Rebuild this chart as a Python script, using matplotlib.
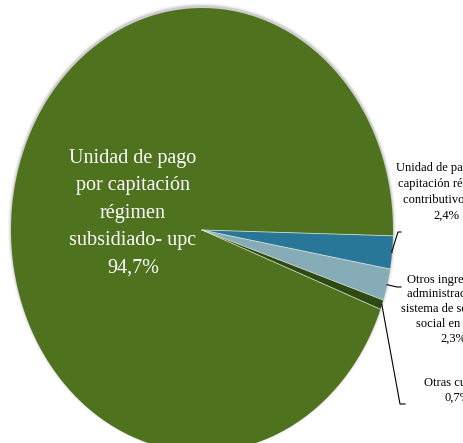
import numpy as np
import matplotlib.pyplot as plt
from matplotlib.patches import Ellipse

labels = [
    "Unidad de pago por\ncapitación régimen\ncontributivo- upc",
    "Otros ingresos por\nadministración del\nsistema de seguridad\nsocial en salud",
    "Otras cuentas",
    "Unidad de pago\npor capitación\nrégimen\nsubsidiado- upc",
]
values = [2.4, 2.3, 0.7, 94.7]
pct_text = ["2,4%", "2,3%", "0,7%", "94,7%"]
colors = ["#287698", "#86acb8", "#2d4a12", "#4e721e"]

W, H = 464, 443
cx, cy, rx, ry = 202, 230, 191, 222

fig = plt.figure(figsize=(W / 100, H / 100), dpi=100)
ax = fig.add_axes([0, 0, 1, 1])


def px(x, y):
    # pixel position -> data coords
    return (x - cx) / rx, (cy - y) / ry


# soft shadow around the pie
for i, a in enumerate([0.12, 0.09, 0.06, 0.04, 0.02]):
    grow = 0.007 * (i + 1)
    ax.add_patch(Ellipse((0, 0.008), 2 + grow, 2 + grow * rx / ry,
                         color="#555555", alpha=a, lw=0, zorder=0))

wedges, _ = ax.pie(values, colors=colors, startangle=-1.5, counterclock=False,
                   radius=1, center=(0, 0), wedgeprops=dict(linewidth=0))
for w in wedges:
    w.set_zorder(2)

# thin light separators between slices
for w in wedges:
    t = np.deg2rad(w.theta1)
    ax.plot([0, np.cos(t)], [0, np.sin(t)], color="#e8eee0", lw=0.6,
            alpha=0.8, zorder=3)

ax.set_xlim(-cx / rx, (W - cx) / rx)
ax.set_ylim(-(H - cy) / ry, cy / ry)
ax.set_aspect("auto")
ax.axis("off")

serif = ["Liberation Serif", "DejaVu Serif"]

# big label inside
tx, ty = px(133, 213)
ax.text(tx, ty, labels[3] + "\n" + pct_text[3], color="white", fontsize=14.5,
        family=serif, ha="center", va="center", linespacing=1.6, zorder=5)

# small outside labels
small_pos = [(446, 192), (453, 309), (458, 390)]
spacing = [1.45, 1.3, 1.3]
for i, (lx, ly) in enumerate(small_pos):
    x, y = px(lx, ly)
    ax.text(x, y, labels[i] + "\n" + pct_text[i], color="black", fontsize=9,
            family=serif, ha="center", va="center", linespacing=spacing[i],
            zorder=5)

# leader lines from slice edge
mids = [np.deg2rad((w.theta1 + w.theta2) / 2) for w in wedges[:3]]
ends = [[(392, 251), (398, 232), (401, 232)],
        [(397, 287), (401, 287)],
        [(400, 404), (405, 404)]]
for m, pts in zip(mids, ends):
    xs = [np.cos(m)] + [px(*p)[0] for p in pts]
    ys = [np.sin(m)] + [px(*p)[1] for p in pts]
    ax.plot(xs, ys, color="black", lw=0.8, zorder=4)

fig.savefig("out.png", dpi=100)
